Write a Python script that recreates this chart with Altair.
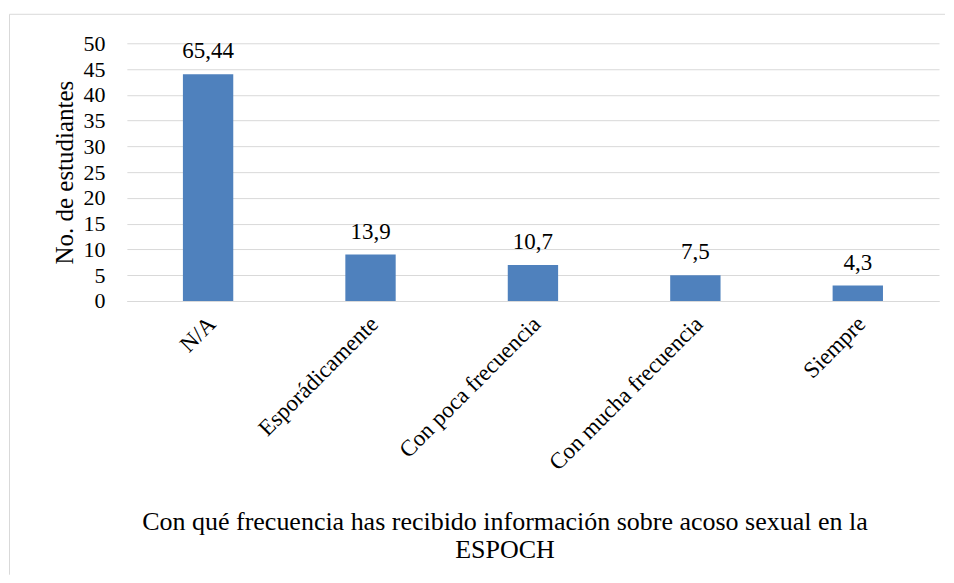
import altair as alt
import pandas as pd

categories = ["N/A", "Esporádicamente", "Con poca frecuencia", "Con mucha frecuencia", "Siempre"]
counts = [44, 9, 7, 5, 3]
labels = ["65,44", "13,9", "10,7", "7,5", "4,3"]
y_ticks = [0, 5, 10, 15, 20, 25, 30, 35, 40, 45, 50]
x_title = ["Con qué frecuencia has recibido información sobre acoso sexual en la", "ESPOCH"]
y_title = "No. de estudiantes"

df = pd.DataFrame({"cat": categories, "n": counts, "lab": labels})

W, H = 813, 258
FONT = "Liberation Serif"
GRID = "#d9d9d9"

x_enc = alt.X(
    "cat:N",
    sort=categories,
    scale=alt.Scale(paddingInner=0.69, paddingOuter=0.345),
    axis=alt.Axis(
        title=x_title,
        labelAngle=-45,
        labelAlign="right",
        labelBaseline="middle",
        labelPadding=19,
        labelOffset=4,
        labelFontSize=23,
        labelFont=FONT,
        labelColor="black",
        labelLimit=500,
        labelOverlap=False,
        ticks=False,
        tickSize=0,
        domainColor=GRID,
        domainWidth=1,
        grid=False,
        titleFontSize=26,
        titleFont=FONT,
        titleFontWeight="normal",
        titleColor="black",
        titleX=378,
        titleY=229,
        titleAlign="center",
        titleBaseline="alphabetic",
        titleLineHeight=28,
        titleLimit=1000,
    ),
)

y_enc = alt.Y(
    "n:Q",
    scale=alt.Scale(domain=[0, 50], nice=False),
    axis=alt.Axis(
        title=y_title,
        values=y_ticks,
        domain=False,
        ticks=False,
        tickSize=0,
        labelPadding=22,
        labelFontSize=22,
        labelFont=FONT,
        labelColor="black",
        gridColor=GRID,
        gridWidth=1,
        titleFontSize=25,
        titleFont=FONT,
        titleFontWeight="normal",
        titleColor="black",
        titlePadding=5,
    ),
)

bars = alt.Chart(df).mark_bar(color="#4F81BD").encode(x=x_enc, y=y_enc)

text = alt.Chart(df).mark_text(
    baseline="alphabetic", dy=-16, fontSize=23, font=FONT, color="black"
).encode(x=x_enc, y=y_enc, text="lab:N")

border_df = pd.DataFrame({"a": [0]})
top_rule = alt.Chart(border_df).mark_rule(color=GRID, strokeWidth=1).encode(
    x=alt.value(-117.5), x2=alt.value(W + 6), y=alt.value(-29)
)
left_rule = alt.Chart(border_df).mark_rule(color=GRID, strokeWidth=1).encode(
    x=alt.value(-117.5), y=alt.value(-29), y2=alt.value(532)
)

chart = (
    alt.layer(bars, text, top_rule, left_rule)
    .properties(width=W, height=H, padding={"left": 1, "top": 5, "right": 0, "bottom": 0})
    .configure(background="white", font=FONT)
    .configure_view(stroke=None, strokeWidth=0)
)

chart.save("out.html", embed_options={"renderer": "svg", "actions": False})
